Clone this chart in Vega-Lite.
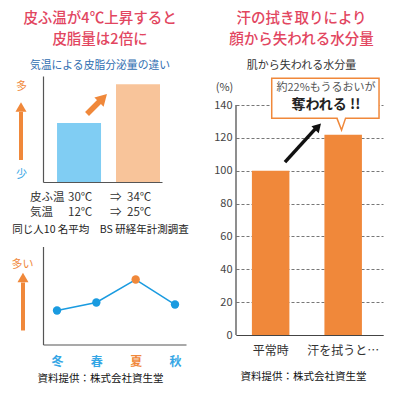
{
  "$schema": "https://vega.github.io/schema/vega-lite/v6.json",
  "padding": {"left": 11, "top": 11, "right": 5, "bottom": 5},
  "background": "white",
  "config": {
    "font": "Noto Sans CJK JP",
    "view": {"stroke": null},
    "axis": {"grid": false, "ticks": false, "tickSize": 0, "domainColor": "#555", "labelFont": "Noto Sans CJK JP", "titleFont": "Noto Sans CJK JP", "labelOverlap": false},
    "title": {"font": "Noto Sans CJK JP", "subtitleFont": "Noto Sans CJK JP"},
    "text": {"font": "Noto Sans CJK JP"}
  },
  "spacing": 24,
  "bounds": "full",
  "hconcat": [
    {
      "spacing": 64.5,
      "bounds": "flush",
      "vconcat": [
        {
          "width": 119,
          "height": 106,
          "title": {
            "text": ["皮ふ温が4℃上昇すると", "皮脂量は2倍に"],
            "subtitle": "気温による皮脂分泌量の違い",
            "fontSize": 14.5, "fontWeight": 500, "lineHeight": 21, "color": "#e2465f",
            "subtitleFontSize": 10.8, "subtitleColor": "#2f6db0", "subtitlePadding": 12.5,
            "anchor": "middle", "frame": "group", "dx": -2.5, "offset": 4
          },
          "resolve": {"scale": {"x": "independent"}},
          "layer": [
            {
              "data": {"values": [{"条件": "30℃|12℃", "皮脂量": 1.0}, {"条件": "34℃|25℃", "皮脂量": 1.66}]},
              "mark": {"type": "bar"},
              "encoding": {
                "x": {"field": "条件", "type": "nominal", "sort": null,
                  "scale": {"paddingInner": 0.254, "paddingOuter": 0.136, "align": 0.875},
                  "axis": {"labelExpr": "split(datum.value, '|')", "labelAlign": "left", "labelOffset": -11, "labelPadding": 9,
                    "labelFontSize": 11.5, "labelColor": "#333", "labelLineHeight": 15, "labelAngle": 0, "domainColor": "#555", "domainWidth": 1.2,
                    "title": "同じ人10 名平均　BS 研経年計測調査", "titleFontSize": 10.5, "titleFontWeight": "normal", "titleColor": "#222",
                    "titlePadding": 7, "titleX": 57, "titleAlign": "center"}},
                "y": {"field": "皮脂量", "type": "quantitative", "scale": {"domain": [0, 1.8]},
                  "axis": {"values": [0.119, 1.63], "tickCount": 4, "labelExpr": "datum.value > 1 ? '多' : '少'",
                    "labelColor": {"condition": {"test": "datum.value > 1", "value": "#f0883a"}, "value": "#3ba8e6"},
                    "labelAlign": "center", "labelBaseline": "middle", "labelPadding": 22, "labelFontSize": 11, "title": null, "domainColor": "#555", "domainWidth": 1.2}},
                "color": {"field": "条件", "type": "nominal", "sort": null, "scale": {"range": ["#80cdf3", "#f8c49a"]}, "legend": null}
              }
            },
            {
              "data": {"values": [{"x": 37.0, "y": 1.155, "x2": 48.3, "y2": 1.384}]},
              "mark": {"type": "rule", "strokeWidth": 5.5, "color": "#f0883a"},
              "encoding": {
                "x": {"field": "x", "type": "quantitative", "scale": {"domain": [0, 100]}, "axis": null},
                "x2": {"field": "x2"},
                "y": {"field": "y", "type": "quantitative", "scale": {"domain": [0, 1.8]}},
                "y2": {"field": "y2"}
              }
            },
            {
              "data": {"values": [{"x": 50.4, "y": 1.426}]},
              "mark": {"type": "point", "shape": "triangle-up", "angle": 45, "size": 170, "filled": true, "opacity": 1, "color": "#f0883a"},
              "encoding": {
                "x": {"field": "x", "type": "quantitative", "scale": {"domain": [0, 100]}, "axis": null},
                "y": {"field": "y", "type": "quantitative", "scale": {"domain": [0, 1.8]}}
              }
            },
            {
              "data": {"values": [{"x": -18.5, "y": 0.374, "y2": 1.189}]},
              "mark": {"type": "rule", "strokeWidth": 4, "color": "#f0883a"},
              "encoding": {
                "x": {"field": "x", "type": "quantitative", "scale": {"domain": [0, 100]}, "axis": null},
                "y": {"field": "y", "type": "quantitative", "scale": {"domain": [0, 1.8]}},
                "y2": {"field": "y2"}
              }
            },
            {
              "data": {"values": [{"x": -18.5, "y": 1.274}]},
              "mark": {"type": "point", "shape": "triangle-up", "size": 121, "filled": true, "opacity": 1, "color": "#f0883a"},
              "encoding": {
                "x": {"field": "x", "type": "quantitative", "scale": {"domain": [0, 100]}, "axis": null},
                "y": {"field": "y", "type": "quantitative", "scale": {"domain": [0, 1.8]}}
              }
            },
            {
              "data": {"values": [
                {"x": -10.9, "y": -0.272, "t": "皮ふ温"},
                {"x": -10.9, "y": -0.526, "t": "気温"},
                {"x": 56.3, "y": -0.272, "t": "⇒"},
                {"x": 56.3, "y": -0.526, "t": "⇒"}
              ]},
              "mark": {"type": "text", "align": "left", "baseline": "middle", "fontSize": 11.5, "color": "#333"},
              "encoding": {
                "x": {"field": "x", "type": "quantitative", "scale": {"domain": [0, 100]}, "axis": null},
                "y": {"field": "y", "type": "quantitative", "scale": {"domain": [0, 1.8]}},
                "text": {"field": "t"}
              }
            }
          ]
        },
        {
          "width": 143,
          "height": 98,
          "resolve": {"scale": {"x": "independent"}},
          "layer": [
            {
              "data": {"name": "season", "values": [{"季節": "冬", "皮脂量": 34.7}, {"季節": "春", "皮脂量": 42.9}, {"季節": "夏", "皮脂量": 66.3}, {"季節": "秋", "皮脂量": 40.8}]},
              "mark": {"type": "line", "color": "#1a9be0", "strokeWidth": 1.5},
              "encoding": {
                "x": {"field": "季節", "type": "ordinal", "sort": null, "scale": {"type": "point", "padding": 0.318, "align": 0.56},
                  "axis": {"labelAngle": 0, "labelFontSize": 12, "labelFontWeight": "bold", "labelPadding": 12,
                    "labelColor": {"condition": {"test": "datum.value === '夏'", "value": "#f0883a"}, "value": "#35a6e5"},
                    "domainColor": "#555", "domainWidth": 1.2,
                    "title": "資料提供：株式会社資生堂", "titleFontSize": 10.5, "titleFontWeight": "normal", "titleColor": "#111",
                    "titlePadding": 6, "titleX": 57, "titleAlign": "center"}},
                "y": {"field": "皮脂量", "type": "quantitative", "scale": {"domain": [0, 100]},
                  "axis": {"values": [81.6], "labelExpr": "'多い'", "labelColor": "#f0883a", "labelAlign": "center", "labelBaseline": "middle",
                    "labelPadding": 21, "labelFontSize": 11, "title": null, "domainColor": "#555", "domainWidth": 1.2}}
              }
            },
            {
              "data": {"name": "season"},
              "mark": {"type": "point", "filled": true, "size": 70, "opacity": 1},
              "encoding": {
                "x": {"field": "季節", "type": "ordinal", "sort": null, "scale": {"type": "point", "padding": 0.318, "align": 0.56}, "axis": null},
                "y": {"field": "皮脂量", "type": "quantitative", "scale": {"domain": [0, 100]}},
                "color": {"condition": {"test": "datum['季節'] === '夏'", "value": "#f0883a"}, "value": "#1a9be0"}
              }
            },
            {
              "data": {"values": [{"x": -14.0, "y": 14.3, "y2": 63.3}]},
              "mark": {"type": "rule", "strokeWidth": 4, "color": "#f0883a"},
              "encoding": {
                "x": {"field": "x", "type": "quantitative", "scale": {"domain": [0, 100]}, "axis": null},
                "y": {"field": "y", "type": "quantitative", "scale": {"domain": [0, 100]}},
                "y2": {"field": "y2"}
              }
            },
            {
              "data": {"values": [{"x": -14.0, "y": 68.4}]},
              "mark": {"type": "point", "shape": "triangle-up", "size": 121, "filled": true, "opacity": 1, "color": "#f0883a"},
              "encoding": {
                "x": {"field": "x", "type": "quantitative", "scale": {"domain": [0, 100]}, "axis": null},
                "y": {"field": "y", "type": "quantitative", "scale": {"domain": [0, 100]}}
              }
            }
          ]
        }
      ]
    },
    {
      "width": 147,
      "height": 259,
      "title": {
        "text": ["汗の拭き取りにより", "顔から失われる水分量"],
        "subtitle": "肌から失われる水分量",
        "fontSize": 14.5, "fontWeight": 500, "lineHeight": 21, "color": "#e2465f",
        "subtitleFontSize": 11, "subtitleColor": "#333", "subtitlePadding": 12.5,
        "anchor": "middle", "frame": "group", "dx": -8, "offset": 4
      },
      "resolve": {"scale": {"x": "independent"}},
      "layer": [
        {
          "data": {"values": [{"状況": "平常時", "水分量": 100}, {"状況": "汗を拭うと…", "水分量": 122}]},
          "mark": {"type": "bar", "color": "#f0883a"},
          "encoding": {
            "x": {"field": "状況", "type": "nominal", "sort": null,
              "scale": {"paddingInner": 0.483, "paddingOuter": 0.255, "align": 0.43},
              "axis": {"labelAngle": 0, "labelFontSize": 12, "labelColor": "#333", "labelPadding": 10, "domainColor": "#444", "domainWidth": 1.2,
                "title": "資料提供：株式会社資生堂", "titleFontSize": 10.5, "titleFontWeight": "normal", "titleColor": "#111",
                "titlePadding": 15, "titleX": 67, "titleAlign": "center"}},
            "y": {"field": "水分量", "type": "quantitative", "scale": {"domain": [0, 157.7], "nice": false},
              "axis": {"values": [0, 20, 40, 60, 80, 100, 120, 140], "tickCount": 10, "labelOverlap": false, "grid": true, "gridDash": [3, 2], "gridColor": "#777", "gridWidth": 1,
                "domain": false, "labelFontSize": 11, "labelColor": "#444", "labelPadding": 4,
                "title": "(%)", "titleAngle": 0, "titleX": -12, "titleY": 11, "titleAlign": "center", "titleBaseline": "middle",
                "titleFontSize": 11, "titleFontWeight": "normal", "titleColor": "#444"}}
          }
        },
        {
          "data": {"values": [{"x": 0, "y": 0, "y2": 140}]},
          "mark": {"type": "rule", "strokeWidth": 1.2, "color": "#444"},
          "encoding": {
            "x": {"field": "x", "type": "quantitative", "scale": {"domain": [0, 100]}, "axis": null},
            "y": {"field": "y", "type": "quantitative", "scale": {"domain": [0, 157.7], "nice": false}},
            "y2": {"field": "y2"}
          }
        },
        {
          "data": {"values": [{"x": 24.3, "x2": 97.3, "y": 156.3, "y2": 131.9}]},
          "mark": {"type": "rect", "fill": "white", "stroke": "#f0883a", "strokeWidth": 1.5},
          "encoding": {
            "x": {"field": "x", "type": "quantitative", "scale": {"domain": [0, 100]}, "axis": null},
            "x2": {"field": "x2"},
            "y": {"field": "y", "type": "quantitative", "scale": {"domain": [0, 157.7], "nice": false}},
            "y2": {"field": "y2"}
          }
        },
        {
          "data": {"values": [{"x": 69.2, "x2": 74.1, "y": 131.9}]},
          "mark": {"type": "rule", "strokeWidth": 3, "color": "white"},
          "encoding": {
            "x": {"field": "x", "type": "quantitative", "scale": {"domain": [0, 100]}, "axis": null},
            "x2": {"field": "x2"},
            "y": {"field": "y", "type": "quantitative", "scale": {"domain": [0, 157.7], "nice": false}}
          }
        },
        {
          "data": {"values": [{"x": 68.7, "y": 131.9, "k": 1}, {"x": 71.8, "y": 124.8, "k": 2}, {"x": 74.5, "y": 131.9, "k": 3}]},
          "mark": {"type": "line", "color": "#f0883a", "strokeWidth": 1.5},
          "encoding": {
            "x": {"field": "x", "type": "quantitative", "scale": {"domain": [0, 100]}, "axis": null},
            "y": {"field": "y", "type": "quantitative", "scale": {"domain": [0, 157.7], "nice": false}},
            "order": {"field": "k"}
          }
        },
        {
          "data": {"values": [{"x": 61.2, "y": 150.3, "t": "約22%もうるおいが"}]},
          "mark": {"type": "text", "align": "center", "baseline": "middle", "fontSize": 11, "color": "#555"},
          "encoding": {
            "x": {"field": "x", "type": "quantitative", "scale": {"domain": [0, 100]}, "axis": null},
            "y": {"field": "y", "type": "quantitative", "scale": {"domain": [0, 157.7], "nice": false}},
            "text": {"field": "t"}
          }
        },
        {
          "data": {"values": [{"x": 61.2, "y": 140.0, "t": "奪われる !!"}]},
          "mark": {"type": "text", "align": "center", "baseline": "middle", "fontSize": 14, "fontWeight": "bold", "color": "#222"},
          "encoding": {
            "x": {"field": "x", "type": "quantitative", "scale": {"domain": [0, 100]}, "axis": null},
            "y": {"field": "y", "type": "quantitative", "scale": {"domain": [0, 157.7], "nice": false}},
            "text": {"field": "t"}
          }
        },
        {
          "data": {"values": [{"x": 33.3, "y": 105.3, "x2": 54.4, "y2": 126.0}]},
          "mark": {"type": "rule", "strokeWidth": 3.5, "color": "#111"},
          "encoding": {
            "x": {"field": "x", "type": "quantitative", "scale": {"domain": [0, 100]}, "axis": null},
            "x2": {"field": "x2"},
            "y": {"field": "y", "type": "quantitative", "scale": {"domain": [0, 157.7], "nice": false}},
            "y2": {"field": "y2"}
          }
        },
        {
          "data": {"values": [{"x": 55.8, "y": 126.9}]},
          "mark": {"type": "point", "shape": "triangle-up", "angle": 43, "size": 100, "filled": true, "opacity": 1, "color": "#111"},
          "encoding": {
            "x": {"field": "x", "type": "quantitative", "scale": {"domain": [0, 100]}, "axis": null},
            "y": {"field": "y", "type": "quantitative", "scale": {"domain": [0, 157.7], "nice": false}}
          }
        }
      ]
    }
  ]
}
